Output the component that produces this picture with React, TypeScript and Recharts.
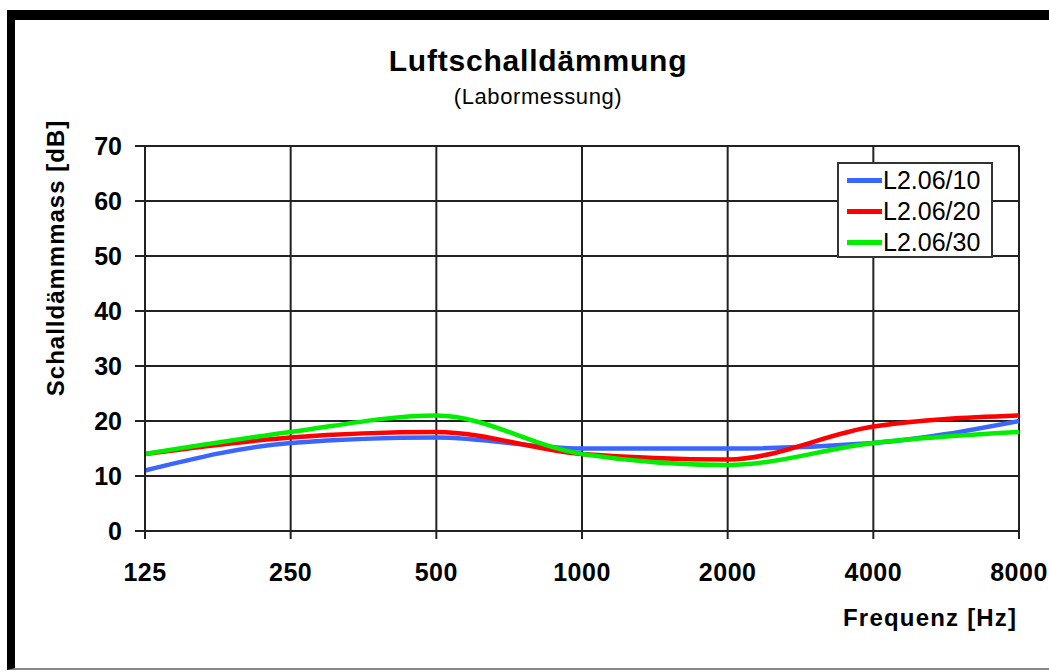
import React from 'react';
import { LineChart, Line, XAxis, YAxis, CartesianGrid, Legend } from 'recharts';

const frequencies = ['125', '250', '500', '1000', '2000', '4000', '8000'];
const seriesL10 = [11, 16, 17, 15, 15, 16, 20];
const seriesL20 = [14, 17, 18, 14, 13, 19, 21];
const seriesL30 = [14, 18, 21, 14, 12, 16, 18];
const yTicks = [0, 10, 20, 30, 40, 50, 60, 70];

const seriesInfo = [
  { key: 'l10', name: 'L2.06/10', color: '#3a66ff' },
  { key: 'l20', name: 'L2.06/20', color: '#ff0000' },
  { key: 'l30', name: 'L2.06/30', color: '#00ee00' }
];

const data = frequencies.map((freq, i) => ({
  freq,
  l10: seriesL10[i],
  l20: seriesL20[i],
  l30: seriesL30[i]
}));

const font = '"Liberation Sans", Arial, sans-serif';

// legend box drawn like the old Excel one
const renderLegend = () => (
  <div
    style={{
      border: '2px solid #333',
      background: '#fff',
      width: 152,
      height: 91,
      boxSizing: 'content-box',
      fontFamily: font,
      fontSize: 25,
      color: '#000',
      paddingTop: 1
    }}
  >
    {seriesInfo.map((s) => (
      <div key={s.key} style={{ display: 'flex', alignItems: 'center', height: 31 }}>
        <span style={{ display: 'inline-block', width: 35, height: 5, background: s.color, marginLeft: 8, marginRight: 1 }} />
        <span style={{ lineHeight: '25px' }}>{s.name}</span>
      </div>
    ))}
  </div>
);

export default function App() {
  return (
    <div style={{ position: 'absolute', left: 0, top: 0, width: 1049, height: 671, overflow: 'hidden', background: '#fff' }}>
      {/* frame */}
      <div
        style={{
          position: 'absolute',
          left: 7,
          top: 10,
          width: 1100,
          height: 648,
          borderTop: '10px solid #000',
          borderLeft: '8px solid #000',
          borderBottom: '2px solid #888'
        }}
      />
      <div
        style={{
          position: 'absolute',
          left: 0,
          width: 1076,
          top: 44,
          textAlign: 'center',
          fontFamily: font,
          fontWeight: 'bold',
          fontSize: 30,
          letterSpacing: 0.8,
          color: '#000'
        }}
      >
        Luftschalldämmung
      </div>
      <div
        style={{
          position: 'absolute',
          left: 0,
          width: 1076,
          top: 84,
          textAlign: 'center',
          fontFamily: font,
          fontSize: 22,
          letterSpacing: 0.6,
          color: '#000'
        }}
      >
        (Labormessung)
      </div>
      <div
        style={{
          position: 'absolute',
          left: 56,
          top: 258,
          transform: 'translate(-50%, -50%) rotate(-90deg)',
          whiteSpace: 'nowrap',
          fontFamily: font,
          fontWeight: 'bold',
          fontSize: 24,
          letterSpacing: 1,
          color: '#000'
        }}
      >
        Schalldämmmass [dB]
      </div>
      <div
        style={{
          position: 'absolute',
          left: 843,
          top: 604,
          whiteSpace: 'nowrap',
          fontFamily: font,
          fontWeight: 'bold',
          fontSize: 24,
          letterSpacing: 1.2,
          color: '#000'
        }}
      >
        Frequenz [Hz]
      </div>
      <div style={{ position: 'absolute', left: 0, top: 0 }}>
        <LineChart
          width={1049}
          height={671}
          data={data}
          margin={{ top: 146, right: 30, left: 85, bottom: 110 }}
          style={{ fontFamily: font }}
        >
          <CartesianGrid stroke="#222" strokeWidth={2} />
          <XAxis
            dataKey="freq"
            height={30}
            tickSize={8}
            tickMargin={24}
            stroke="#222"
            strokeWidth={2}
            tick={{ fontSize: 25, fontWeight: 'bold', fill: '#000', letterSpacing: 0.5 }}
            interval={0}
          />
          <YAxis
            width={60}
            domain={[0, 70]}
            ticks={yTicks}
            tickSize={10}
            tickMargin={13}
            stroke="#222"
            strokeWidth={2}
            tick={{ fontSize: 25, fontWeight: 'bold', fill: '#000' }}
            interval={0}
          />
          <Legend
            layout="horizontal"
            verticalAlign="middle"
            align="center"
            content={renderLegend}
            wrapperStyle={{ left: 837, top: 162, width: 156, height: 95 }}
          />
          {seriesInfo.map((s) => (
            <Line
              key={s.key}
              type="monotone"
              dataKey={s.key}
              name={s.name}
              stroke={s.color}
              strokeWidth={4.5}
              dot={false}
              activeDot={false}
              isAnimationActive={false}
            />
          ))}
        </LineChart>
      </div>
    </div>
  );
}
